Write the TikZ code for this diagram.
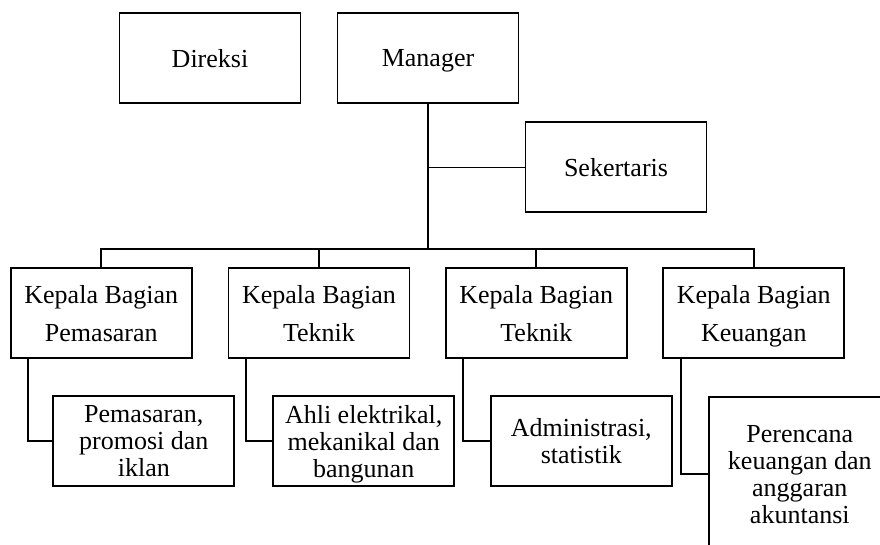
\documentclass[tikz,border=0pt]{standalone}
\usepackage{fontspec}
\setmainfont{Liberation Serif}
\begin{document}
\begin{tikzpicture}[x=1pt,y=-1pt,
  box/.style={draw,line width=1.9pt,minimum width=181pt,minimum height=90pt,inner sep=0pt,align=center,text depth=0pt,font=\fontsize{26}{27}\selectfont},
  midbox/.style={box,font=\fontsize{26}{38}\selectfont},
  conn/.style={line width=1.9pt},
  thinconn/.style={line width=0.8pt}]
\useasboundingbox (0,0) rectangle (880,544);
\clip (0,0) rectangle (880,544);
\node[box] (dir) at (210,58) {Direksi};
\node[box] (man) at (428,58) {Manager};
\node[box] (sek) at (616,167.3) {Sekertaris};
\node[midbox] (k1) at (101.3,313.3) {Kepala Bagian\\Pemasaran};
\node[midbox] (k2) at (319,313.3) {Kepala Bagian\\Teknik};
\node[midbox] (k3) at (536.3,313.3) {Kepala Bagian\\Teknik};
\node[midbox] (k4) at (753.8,313.3) {Kepala Bagian\\Keuangan};
\node[box] (s1) at (143.8,441.3) {Pemasaran,\\promosi dan\\iklan};
\node[box] (s2) at (363.7,441.3) {Ahli elektrikal,\\mekanikal dan\\bangunan};
\node[box] (s3) at (581.3,441.3) {Administrasi,\\statistik};
\node[box,minimum height=154pt] (s4) at (799.8,474) {Perencana\\keuangan dan\\anggaran\\akuntansi};
\coordinate (bus) at (428,249);
\draw[conn] (man.south) -- (bus);
\draw[conn] (k1.north) |- (bus) -| (k4.north);
\draw[conn] (k2.north) -- (k2.north |- bus);
\draw[conn] (k3.north) -- (k3.north |- bus);
\draw[thinconn] (sek.west) -- (sek.west -| man.south);
\draw[conn] ([xshift=18.5pt]k1.south west) |- (s1.west);
\draw[conn] ([xshift=18.5pt]k2.south west) |- (s2.west);
\draw[conn] ([xshift=18.5pt]k3.south west) |- (s3.west);
\draw[conn] ([xshift=18.5pt]k4.south west) |- (s4.west);
\end{tikzpicture}
\end{document}
